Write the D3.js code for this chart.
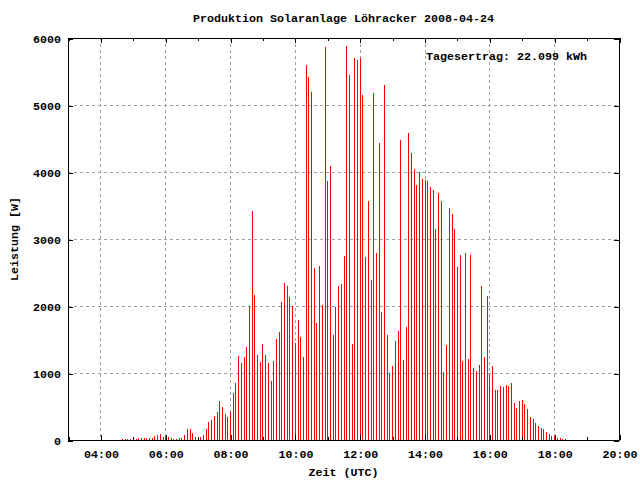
<!DOCTYPE html>
<html>
<head>
<meta charset="utf-8">
<script src="https://cdn.jsdelivr.net/npm/d3@7"></script>
<style>
  html, body { margin: 0; padding: 0; background: #fff; }
  svg { display: block; }
  text { font-family: "Liberation Mono", "DejaVu Sans Mono", monospace; font-weight: bold; fill: #000; }
</style>
</head>
<body>
<script>
// ---- data ----
const titleText = "Produktion Solaranlage Löhracker 2008-04-24";
const yLabel = "Leistung [W]";
const xLabel = "Zeit (UTC)";
const yieldText = "Tagesertrag: 22.099 kWh";

const times = [
  "04:40","04:45","04:50","04:55","05:00","05:05","05:10","05:15","05:20","05:25","05:30","05:35",
  "05:40","05:45","05:50","05:55","06:00","06:05","06:10","06:15","06:20","06:25","06:30","06:35",
  "06:40","06:45","06:50","06:55","07:00","07:05","07:10","07:15","07:20","07:25","07:30","07:35",
  "07:40","07:45","07:50","07:55","08:00","08:05","08:10","08:15","08:20","08:25","08:30","08:35",
  "08:40","08:45","08:50","08:55","09:00","09:05","09:10","09:15","09:20","09:25","09:30","09:35",
  "09:40","09:45","09:50","09:55","10:00","10:05","10:10","10:15","10:20","10:25","10:30","10:35",
  "10:40","10:45","10:50","10:55","11:00","11:05","11:10","11:15","11:20","11:25","11:30","11:35",
  "11:40","11:45","11:50","11:55","12:00","12:05","12:10","12:15","12:20","12:25","12:30","12:35",
  "12:40","12:45","12:50","12:55","13:00","13:05","13:10","13:15","13:20","13:25","13:30","13:35",
  "13:40","13:45","13:50","13:55","14:00","14:05","14:10","14:15","14:20","14:25","14:30","14:35",
  "14:40","14:45","14:50","14:55","15:00","15:05","15:10","15:15","15:20","15:25","15:30","15:35",
  "15:40","15:45","15:50","15:55","16:00","16:05","16:10","16:15","16:20","16:25","16:30","16:35",
  "16:40","16:45","16:50","16:55","17:00","17:05","17:10","17:15","17:20","17:25","17:30","17:35",
  "17:40","17:45","17:50","17:55","18:00","18:05","18:10","18:15","18:20"
];
const power = [
  15,15,15,15,15,15,30,30,30,30,30,30,
  60,75,90,45,60,45,30,15,15,30,30,75,
  170,170,110,45,30,45,75,170,275,305,365,425,
  575,500,395,350,420,700,850,1255,1150,1240,1390,2000,
  3420,2165,1270,1165,1435,1270,1150,880,1180,1505,1610,2060,
  2345,2300,2135,2000,1450,1790,1535,1240,5600,5420,5195,2565,
  1745,2595,2015,5865,3865,4090,1565,1985,2300,2330,2745,5880,
  5450,1435,5700,5670,5700,5150,2730,3565,2390,5180,2790,4435,
  1910,5300,1565,1000,1105,1480,1625,4480,1195,1685,4580,4285,
  4045,3805,4000,3895,3880,3865,3775,3730,3150,3685,3565,1015,
  1420,3465,3375,3150,2580,2760,1180,2790,1210,2760,1075,1030,
  1120,2300,1240,2150,985,1105,745,745,805,790,820,805,
  850,550,480,580,595,535,465,345,315,255,210,180,
  165,120,90,60,60,30,30,15,15
];
const xMajorTicks = ["04:00","06:00","08:00","10:00","12:00","14:00","16:00","18:00","20:00"];
const xMinorTicks = ["03:00","05:00","07:00","09:00","11:00","13:00","15:00","17:00","19:00"];
const xDomain = ["03:00","20:00"];
const yTicks = [0,1000,2000,3000,4000,5000,6000];
const yDomain = [0, 6000];

// ---- layout ----
const W = 640, H = 480;
const L = 68, R = 619, T = 38, B = 440;
const parse = d3.timeParse("%H:%M");
const fmt = d3.timeFormat("%H:%M");

const svg = d3.select("body").append("svg").attr("width", W).attr("height", H);
svg.append("rect").attr("width", W).attr("height", H).attr("fill", "#fff");

const x = d3.scaleTime().domain(xDomain.map(parse)).range([L, R]);
const y = d3.scaleLinear().domain(yDomain).range([B, T]);
const px = v => Math.round(v) + 0.5;

// grid
const grid = svg.append("g").attr("stroke", "#a0a0a0").attr("stroke-width", 1).attr("stroke-dasharray", "3,3").attr("shape-rendering", "crispEdges");
xMajorTicks.map(parse).filter(d => x(d) > L + 1 && x(d) < R - 1).forEach(d => {
  grid.append("line").attr("x1", px(x(d))).attr("x2", px(x(d))).attr("y1", T).attr("y2", B);
});
yTicks.filter(v => y(v) > T + 1 && y(v) < B - 1).forEach(v => {
  grid.append("line").attr("x1", L).attr("x2", R).attr("y1", px(y(v))).attr("y2", px(y(v)));
});

// impulses
svg.append("g").selectAll("line").data(times.map((t, i) => ({t: parse(t), v: power[i]})))
  .join("line")
  .attr("x1", d => px(x(d.t))).attr("x2", d => px(x(d.t)))
  .attr("y1", y(0)).attr("y2", d => y(d.v))
  .attr("stroke", "#ff0000").attr("stroke-width", 1).attr("shape-rendering", "crispEdges");

// axes (ticks inside, mirrored)
function styleAxis(g) {
  g.select(".domain").remove();
  g.selectAll("line").attr("stroke", "#000").attr("shape-rendering", "crispEdges");
}
const xMajor = xMajorTicks.map(parse), xMinor = xMinorTicks.map(parse);
svg.append("g").attr("transform", `translate(0.5,${B})`)
  .call(d3.axisBottom(x).tickValues(xMajor).tickSize(-5).tickFormat(fmt).tickPadding(0))
  .call(styleAxis)
  .call(g => g.selectAll("text").attr("y", 18).attr("dy", null).attr("font-size", "11.67px").attr("font-family", null));
svg.append("g").attr("transform", `translate(0.5,${B})`)
  .call(d3.axisBottom(x).tickValues(xMinor).tickSize(-3).tickFormat(""))
  .call(styleAxis);
svg.append("g").attr("transform", `translate(0.5,${T})`)
  .call(d3.axisTop(x).tickValues(xMajor).tickSize(-5).tickFormat(""))
  .call(styleAxis);
svg.append("g").attr("transform", `translate(0.5,${T})`)
  .call(d3.axisTop(x).tickValues(xMinor).tickSize(-3).tickFormat(""))
  .call(styleAxis);
svg.append("g").attr("transform", `translate(${L},0.5)`)
  .call(d3.axisLeft(y).tickValues(yTicks).tickSize(-5).tickFormat(d3.format("d")).tickPadding(0))
  .call(styleAxis)
  .call(g => g.selectAll("text").attr("x", -7).attr("dy", "0.35em").attr("font-size", "11.67px").attr("font-family", null));
svg.append("g").attr("transform", `translate(${R},0.5)`)
  .call(d3.axisRight(y).tickValues(yTicks).tickSize(-5).tickFormat(""))
  .call(styleAxis);

// border
svg.append("rect").attr("x", L + 0.5).attr("y", T + 0.5).attr("width", R - L).attr("height", B - T)
  .attr("fill", "none").attr("stroke", "#000").attr("stroke-width", 1).attr("shape-rendering", "crispEdges");

// texts
svg.append("text").attr("x", (L + R) / 2).attr("y", 22).attr("text-anchor", "middle").attr("font-size", "11.67px").text(titleText);
svg.append("text").attr("x", 426).attr("y", 60).attr("font-size", "11.67px").text(yieldText);
svg.append("text").attr("x", (L + R) / 2).attr("y", 476).attr("text-anchor", "middle").attr("font-size", "11.67px").text(xLabel);
svg.append("text").attr("transform", `translate(18,${(T + B) / 2}) rotate(-90)`).attr("text-anchor", "middle").attr("font-size", "11.67px").text(yLabel);
</script>
</body>
</html>
